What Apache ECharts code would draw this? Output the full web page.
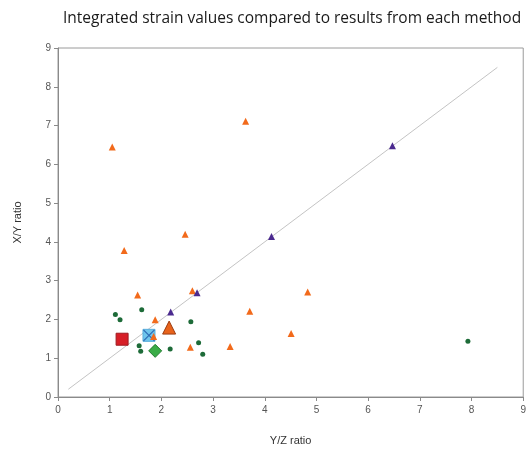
<!DOCTYPE html>
<html>
<head>
<meta charset="utf-8">
<script src="https://cdn.jsdelivr.net/npm/echarts@6/dist/echarts.min.js"></script>
<style>html,body{margin:0;padding:0;background:#fff}#c{width:529px;height:451px}</style>
</head>
<body>
<div id="c"></div>
<script>
const titleText = 'Integrated strain values compared to results from each method';
const xName = 'Y/Z ratio';
const yName = 'X/Y ratio';
const axisMin = 0, axisMax = 9, axisStep = 1;

const orangeX = [1.05, 3.63, 2.46, 1.28, 1.54, 2.60, 1.88, 1.85, 2.56, 3.33, 3.71, 4.51, 4.83];
const orangeY = [6.45, 7.11, 4.20, 3.78, 2.63, 2.74, 1.99, 1.56, 1.28, 1.30, 2.21, 1.64, 2.71];

const purpleX = [2.69, 4.13, 6.47, 2.18];
const purpleY = [2.69, 4.14, 6.48, 2.19];

const greenX = [1.11, 1.62, 1.20, 2.57, 1.57, 1.60, 2.17, 2.72, 2.80, 7.93];
const greenY = [2.13, 2.25, 1.99, 1.94, 1.32, 1.18, 1.24, 1.40, 1.10, 1.44];

const redSquare = [1.24, 1.49];
const blueSquare = [1.76, 1.59];
const bigTriangle = [2.15, 1.79];
const greenDiamond = [1.88, 1.19];

const refLineX = [0.2, 8.5];
const refLineY = [0.2, 8.5];

const zip = (xs, ys) => xs.map((x, i) => [x, ys[i]]);

const chart = echarts.init(document.getElementById('c'), null, {renderer: 'canvas'});
chart.setOption({
  animation: false,
  backgroundColor: '#fff',
  title: {
    text: titleText,
    left: 58, top: 6,
    textStyle: {fontFamily: 'Open Sans', fontSize: 15.5, fontWeight: 'normal', color: '#1a1a1a'}
  },
  grid: {left: 58, right: 4, top: 48, bottom: 49, show: true, borderColor: '#9a9a9a', borderWidth: 1},
  xAxis: {
    type: 'value', min: axisMin, max: axisMax, interval: axisStep,
    name: xName, nameLocation: 'middle', nameGap: 38,
    nameTextStyle: {fontFamily: 'Liberation Sans', fontSize: 11, color: '#333'},
    axisLine: {lineStyle: {color: '#8a8a8a'}},
    axisTick: {show: true, inside: false, length: 4, lineStyle: {color: '#8a8a8a'}},
    axisLabel: {margin: 8, fontFamily: 'Liberation Sans', fontSize: 10, color: '#555'},
    splitLine: {show: false}
  },
  yAxis: {
    type: 'value', min: axisMin, max: axisMax, interval: axisStep,
    name: yName, nameLocation: 'middle', nameGap: 35, nameRotate: 90,
    nameTextStyle: {fontFamily: 'Liberation Sans', fontSize: 11, color: '#333'},
    axisLine: {show: true, lineStyle: {color: '#8a8a8a'}},
    axisTick: {show: true, inside: false, length: 4, lineStyle: {color: '#8a8a8a'}},
    axisLabel: {margin: 7, fontFamily: 'Liberation Sans', fontSize: 10, color: '#555'},
    splitLine: {show: false}
  },
  series: [
    {type: 'line', data: zip(refLineX, refLineY), symbol: 'none',
     lineStyle: {color: '#c4c4c4', width: 1}, z: 1},
    {type: 'scatter', data: zip(greenX, greenY), symbol: 'circle', symbolSize: 5,
     itemStyle: {color: '#1d6b38', opacity: 1}, z: 3},
    {type: 'scatter', data: zip(orangeX, orangeY), symbol: 'triangle', symbolSize: 7,
     itemStyle: {color: '#f26a1b', opacity: 1}, z: 3},
    {type: 'scatter', data: zip(purpleX, purpleY), symbol: 'triangle', symbolSize: 7,
     itemStyle: {color: '#4b2a8f', opacity: 1}, z: 3},
    {type: 'scatter', data: [redSquare], symbol: 'rect', symbolSize: 12,
     itemStyle: {color: '#d71f27', borderColor: '#9e1b20', borderWidth: 1, opacity: 1}, z: 4},
    {type: 'scatter', data: [blueSquare], symbol: 'rect', symbolSize: 12,
     itemStyle: {color: '#6fc5ec', borderColor: '#5aaedc', borderWidth: 1, opacity: 1}, z: 2},
    {type: 'scatter', data: [blueSquare], symbol: 'path://M0,0L10,10M10,0L0,10', symbolSize: 11,
     itemStyle: {color: 'transparent', borderColor: '#2f6db5', borderWidth: 1.3, opacity: 1}, z: 2},
    {type: 'scatter', data: [bigTriangle], symbol: 'triangle', symbolSize: 13,
     itemStyle: {color: '#e8631b', borderColor: '#9c3d12', borderWidth: 1, opacity: 1}, z: 4},
    {type: 'scatter', data: [greenDiamond], symbol: 'diamond', symbolSize: 13,
     itemStyle: {color: '#3aac47', borderColor: '#1f7a2e', borderWidth: 1, opacity: 1}, z: 4}
  ]
});
</script>
</body>
</html>
